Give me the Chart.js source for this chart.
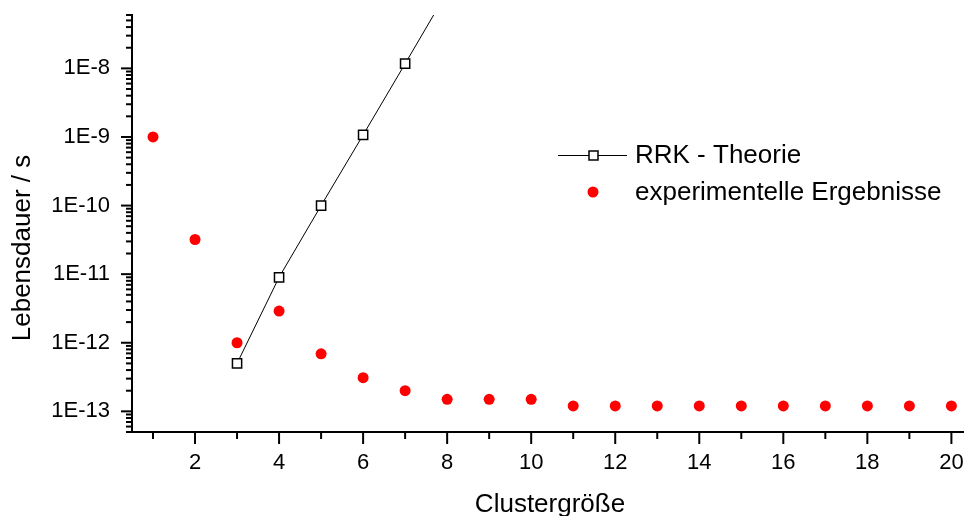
<!DOCTYPE html>
<html>
<head>
<meta charset="utf-8">
<script src="https://cdn.jsdelivr.net/npm/chart.js@4"></script>
<style>
  html, body { margin: 0; padding: 0; background: #fff; }
  #wrap { width: 964px; height: 516px; }
</style>
</head>
<body>
<div id="wrap"><canvas id="myChart"></canvas></div>
<script>
const clusterSizes = [1,2,3,4,5,6,7,8,9,10,11,12,13,14,15,16,17,18,19,20];
const expValues = [1e-9, 3.2e-11, 1.0e-12, 2.9e-12, 6.9e-13, 3.1e-13, 2.0e-13, 1.5e-13, 1.5e-13, 1.5e-13,
                   1.2e-13, 1.2e-13, 1.2e-13, 1.2e-13, 1.2e-13, 1.2e-13, 1.2e-13, 1.2e-13, 1.2e-13, 1.2e-13];
const rrkSizes = [3, 4, 5, 6, 7, 8];
const rrkValues = [5e-13, 9e-12, 1e-10, 1.07e-9, 1.17e-8, 1.3e-7];
const xTicks = [1,2,3,4,5,6,7,8,9,10,11,12,13,14,15,16,17,18,19,20];
const yExponents = [-14, -13, -12, -11, -10, -9, -8];
const yMin = 5e-14, yMax = 6e-8;

const FONT = 'Arial, "Liberation Sans", sans-serif';

// all log ticks 1..9 x 10^e inside the range
var yTickVals = [];
yExponents.forEach(function(e){
  for (var m = 1; m <= 9; m++) {
    var v = m * Math.pow(10, e);
    if (v >= yMin * 0.999 && v <= yMax * 1.001) yTickVals.push(v);
  }
});
function isDecade(v){
  var l = Math.log10(v);
  return Math.abs(l - Math.round(l)) < 1e-6;
}
function noPad(scale){
  scale.paddingTop = 0; scale.paddingBottom = 0;
  scale.paddingLeft = 0; scale.paddingRight = 0;
}

// tick marks outside the axes, long for major, short for minor
const tickMarks = {
  id: 'tickMarks',
  afterDraw: function(chart){
    var ctx = chart.ctx, area = chart.chartArea;
    var xs = chart.scales.x, ys = chart.scales.y;
    ctx.save();
    ctx.strokeStyle = '#000';
    ctx.lineWidth = 2;
    ys.ticks.forEach(function(t){
      var y = ys.getPixelForValue(t.value);
      var major = isDecade(t.value);
      ctx.beginPath();
      ctx.moveTo(area.left, y);
      ctx.lineTo(area.left - (major ? 11 : 6), y);
      ctx.stroke();
    });
    xs.ticks.forEach(function(t){
      var x = xs.getPixelForValue(t.value);
      var major = t.value % 2 === 0;
      ctx.beginPath();
      ctx.moveTo(x, area.bottom);
      ctx.lineTo(x, area.bottom + (major ? 12 : 7));
      ctx.stroke();
    });
    ctx.restore();
  }
};

// axis titles and legend box
const annotations = {
  id: 'annotations',
  afterDraw: function(chart){
    var ctx = chart.ctx;
    ctx.save();
    ctx.fillStyle = '#000';
    ctx.font = '26px ' + FONT;
    ctx.textAlign = 'center';
    ctx.textBaseline = 'middle';
    ctx.fillText('Clustergröße', 550, 505);
    ctx.translate(23, 248);
    ctx.rotate(-Math.PI / 2);
    ctx.fillText('Lebensdauer / s', 0, 0);
    ctx.restore();

    ctx.save();
    // legend: RRK line with square
    ctx.strokeStyle = '#000';
    ctx.lineWidth = 1;
    ctx.beginPath();
    ctx.moveTo(558, 155.5);
    ctx.lineTo(627, 155.5);
    ctx.stroke();
    ctx.fillStyle = '#fff';
    ctx.lineWidth = 1.5;
    ctx.fillRect(589, 151, 9, 9);
    ctx.strokeRect(589, 151, 9, 9);
    // legend: red dot
    ctx.fillStyle = '#ff0000';
    ctx.beginPath();
    ctx.arc(593, 192, 5.5, 0, Math.PI * 2);
    ctx.fill();
    ctx.fillStyle = '#000';
    ctx.font = '26px ' + FONT;
    ctx.textAlign = 'left';
    ctx.textBaseline = 'middle';
    ctx.fillText('RRK - Theorie', 635, 156);
    ctx.fillText('experimentelle Ergebnisse', 635, 193);
    ctx.restore();
  }
};

new Chart('myChart', {
  type: 'scatter',
  data: {
    datasets: [{
      label: 'RRK - Theorie',
      data: rrkSizes.map(function(x, i){ return {x: x, y: rrkValues[i]}; }),
      showLine: true,
      borderColor: '#000',
      borderWidth: 1,
      pointStyle: 'rect',
      pointRadius: 6.5,
      pointBorderWidth: 1.5,
      pointBackgroundColor: '#fff',
      pointBorderColor: '#000',
      order: 2
    }, {
      label: 'experimentelle Ergebnisse',
      data: clusterSizes.map(function(x, i){ return {x: x, y: expValues[i]}; }),
      showLine: false,
      pointStyle: 'circle',
      pointRadius: 5.5,
      pointBorderWidth: 0,
      pointBackgroundColor: '#ff0000',
      pointBorderColor: '#ff0000',
      order: 1
    }]
  },
  options: {
    responsive: true,
    maintainAspectRatio: false,
    animation: false,
    layout: { autoPadding: false, padding: { top: 15, right: 0, left: 0, bottom: 0 } },
    plugins: {
      legend: { display: false },
      tooltip: { enabled: false }
    },
    scales: {
      x: {
        type: 'linear',
        min: 0.5,
        max: 20.3,
        afterBuildTicks: function(scale){
          scale.ticks = xTicks.map(function(v){ return {value: v}; });
        },
        afterFit: function(scale){ scale.height = 84; noPad(scale); },
        grid: { display: false, drawTicks: false },
        border: { display: true, color: '#000', width: 2 },
        ticks: {
          autoSkip: false,
          maxRotation: 0,
          padding: 18,
          color: '#000',
          font: { family: FONT, size: 22 },
          callback: function(v){ return v % 2 === 0 ? String(v) : ''; }
        }
      },
      y: {
        type: 'logarithmic',
        min: yMin,
        max: yMax,
        afterBuildTicks: function(scale){
          scale.ticks = yTickVals.map(function(v){ return {value: v}; });
        },
        afterFit: function(scale){ scale.width = 132; noPad(scale); },
        grid: { display: false, drawTicks: false },
        border: { display: true, color: '#000', width: 2 },
        ticks: {
          autoSkip: false,
          padding: 22,
          color: '#000',
          font: { family: FONT, size: 22 },
          callback: function(v){
            return isDecade(v) ? '1E' + Math.round(Math.log10(v)) : '';
          }
        }
      }
    }
  },
  plugins: [tickMarks, annotations]
});
</script>
</body>
</html>
